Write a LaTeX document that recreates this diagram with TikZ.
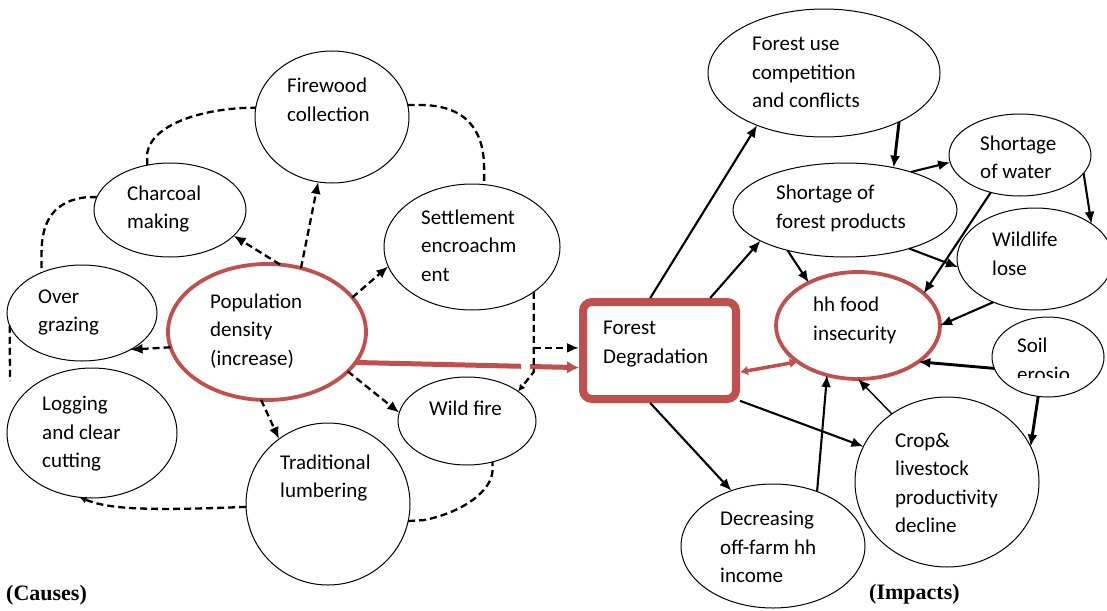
\documentclass[tikz,border=0pt]{standalone}
\usepackage{fontspec}
\setmainfont{Carlito}
\newfontfamily\capfont{Liberation Serif}
\usetikzlibrary{shapes.geometric,arrows.meta,calc}
\definecolor{deg}{HTML}{C0504D}
% one text line of fixed height, so that stacked lines keep an even pitch
\newcommand\ls{\rule[-8.5pt]{0pt}{28.5pt}}
\begin{document}
\begin{tikzpicture}[x=1pt,y=-1pt,
  oval/.style={ellipse,draw=black,line width=1pt,inner sep=0pt,outer sep=0pt},
  hot/.style={ellipse,draw=deg,line width=3.8pt,inner sep=0pt,outer sep=0pt},
  lbl/.style={anchor=west,align=left,inner sep=0pt,text=black,
              font=\fontsize{21}{28.5}\selectfont},
  captiontext/.style={anchor=west,inner sep=0pt,font=\capfont\bfseries\fontsize{22}{26}\selectfont},
  dashlink/.style={line width=2.3pt,dash pattern=on 7pt off 4pt},
  bigtip/.style={-{Latex[length=12pt,width=10pt]}},
  smalltip/.style={-{Latex[length=7pt,width=7pt]}},
  solidlink/.style={line width=2.1pt,-{Latex[length=12pt,width=10pt]}},
  heavy/.style={line width=2.9pt},
  light/.style={line width=1.4pt},
  redlink/.style={draw=deg,line width=5pt,-{Latex[length=12pt,width=13pt]}},
  dualred/.style={draw=deg,line width=3.5pt,
                  {Latex[length=8pt,width=10pt]}-{Latex[length=8pt,width=10pt]}}
]
\fill[white] (0,0) rectangle (1107,610);
\useasboundingbox (0,0) rectangle (1107,610);

% ---------------- causes ----------------
\node[oval,minimum width=154pt,minimum height=132pt] (fw) at (332,117) {};
\node[oval,minimum width=152pt,minimum height=94pt]  (ch) at (170,210) {};
\node[oval,minimum width=150pt,minimum height=96pt]  (og) at (82,313) {};
\node[oval,minimum width=170pt,minimum height=130pt] (lg) at (92,433) {};
\node[oval,minimum width=176pt,minimum height=126pt] (se) at (472,247) {};
\node[oval,minimum width=138pt,minimum height=88pt]  (wf) at (467,421) {};
\node[oval,minimum width=164pt,minimum height=162pt] (tl) at (328,504) {};
\node[hot,minimum width=198pt,minimum height=136pt]  (pop) at (267,332) {};

\node[lbl] (fwt) at (287,101) {\ls Firewood\\\ls collection};
\node[lbl] (cht) at (127,208.5) {\ls Charcoal\\\ls making};
\node[lbl] (ogt) at (38,311.5) {\ls Over\\\ls grazing};
\node[lbl] (lgt) at (42,433.5) {\ls Logging\\\ls and clear\\\ls cutting};
\node[lbl] (popt) at (210,331) {\ls Population\\\ls density\\\ls (increase)};
\node[lbl] (set) at (421,247) {\ls Settlement\\\ls encroachm\\\ls ent};
\node[lbl] (wft) at (429,410) {\ls Wild fire};
\node[lbl] (tlt) at (280,477.5) {\ls Traditional\\\ls lumbering};

% population density drives every cause
\draw[dashlink,bigtip] (pop.79)  -- (ch.-22);
\draw[dashlink,bigtip] (pop.62)  -- (fw.-102);
\draw[dashlink,bigtip] (pop.22)  -- (se.193);
\draw[dashlink,bigtip] (pop.189) -- (og.-37);
\draw[dashlink,bigtip] (pop.-26) -- (wf.173);
\draw[dashlink,bigtip] (pop.-95) -- (tl.127);

% ring of links between the causes
\draw[dashlink] (ch.117) -- ++(0,-12) .. controls +(5,-30) and +(-50,0) .. (fw.173);
\draw[dashlink] (fw.9) -- ++(12,0) .. controls +(45,0) and +(0,-40) .. ($(se.79)+(0,-16)$) -- (se.79);
\draw[dashlink] (ch.170) -- ++(-9,0) .. controls +(-35,3) and +(0,-30) .. ($(og.135)+(0,-20)$) -- (og.135);
\coordinate (ogtail) at (10,381);
\draw[dashlink] (og.190) -- (ogtail);
\draw[dashlink,smalltip] (tl.182) .. controls +(-100,4) and +(30,12) .. (lg.-101);
\draw[dashlink] (tl.-12) -- ++(16,-1) .. controls +(40,-8) and +(0,20) .. ($(wf.-58)+(0,8)$) -- (wf.-58);

% main causal link to forest degradation
\node[draw=deg,line width=8pt,rounded corners=9pt,minimum width=153pt,
      minimum height=97pt,inner sep=0pt] (fd) at (659.5,350.5) {};
\node[lbl] (fdt) at (603,343) {\ls Forest\\\ls Degradation};
\draw[redlink] (pop.-19) -- (fd.192);
\fill[white] (521,355) rectangle (530,378);
\draw[dashlink,smalltip] (se.-36) -- ++(0,80) -- (wf.30);
\coordinate (jn) at ($(se.-36)+(0,56)$);
\draw[dashlink,bigtip] (jn) -- (jn -| fd.west);

% ---------------- impacts ----------------
\node[oval,minimum width=232pt,minimum height=128pt] (fu) at (824,73) {};
\node[oval,minimum width=224pt,minimum height=94pt]  (sp) at (845,210) {};
\node[oval,minimum width=142pt,minimum height=82pt]  (sw) at (1020,155) {};
\node[oval,minimum width=156pt,minimum height=102pt] (wl) at (1035,259) {};
\node[oval,minimum width=112pt,minimum height=80pt]  (so) at (1048,357) {};
\node[oval,minimum width=184pt,minimum height=124pt] (dc) at (773,546) {};
\node[oval,minimum width=184pt,minimum height=170pt] (cr) at (947,482) {};
\node[hot,minimum width=164pt,minimum height=107pt]  (hh) at (858,325.5) {};

\node[lbl] (fut) at (752,73.5) {\ls Forest use\\\ls competition\\\ls and conflicts};
\node[lbl] (spt) at (776,208) {\ls Shortage of\\\ls forest products};
\node[lbl] (swt) at (980,158.5) {\ls Shortage\\\ls of water};
\node[lbl] (wlt) at (992,255) {\ls Wildlife\\\ls lose};
\begin{scope}
  \clip (1000,325) rectangle (1100,377);
  \node[lbl] (sot) at (1017,361) {\ls Soil\\\ls erosio};
\end{scope}
\node[lbl] (hht) at (813,320) {\ls hh food\\\ls insecurity};
\node[lbl] (dct) at (720,548.5) {\ls Decreasing\\\ls off-farm hh\\\ls income};
\node[lbl] (crt) at (895,484) {\ls Crop\&\\\ls livestock\\\ls productivity\\\ls decline};

\draw[solidlink] (fd.100) -- (fu.-142);
\draw[solidlink] (fd.46) -- (sp.-160);
\draw[solidlink,heavy] (fu.-33) -- (sp.41);
\draw[solidlink] (sp.30) -- (sw.186);
\draw[solidlink] (sw.-16) -- (wl.32);
\draw[solidlink] (sw.-128) -- (hh.26);
\draw[solidlink] (sp.-145) -- (hh.139);
\draw[solidlink] (sp.-31) -- (wl.186);
\draw[solidlink] (wl.-134) -- (hh.0);
\draw[solidlink,heavy] (so.192) -- (hh.-31);
\draw[solidlink,heavy] (so.-104) -- (cr.23);
\draw[solidlink,light] (cr.129) -- (hh.270);
\draw[solidlink] (dc.51) -- (hh.-122);
\draw[solidlink] (fd.-100) -- (dc.127);
\draw[solidlink] (fd.-32) -- (cr.157);
\draw[dualred] (fd.-15) -- (hh.211);

% section captions
\node[captiontext] (causes) at (6,595) {(Causes)};
\node[captiontext] (impacts) at (869,594) {(Impacts)};
\end{tikzpicture}
\end{document}
